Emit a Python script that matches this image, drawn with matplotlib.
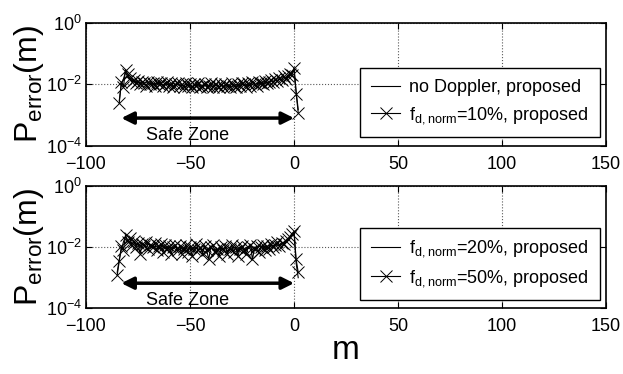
import numpy as np
import matplotlib
matplotlib.use("Agg")
import matplotlib.pyplot as plt

plt.rcParams['font.family'] = ['Liberation Sans', 'DejaVu Sans']
plt.rcParams['mathtext.default'] = 'regular'

# top panel data (m from -84 to 2)
x_top = np.arange(-84, 3)
top_nodop = [0.003, 0.010, 0.015, 0.025, 0.018, 0.015, 0.013, 0.012, 0.013, 0.011,
             0.012, 0.010, 0.011, 0.012, 0.010, 0.011, 0.009, 0.011, 0.010, 0.012,
             0.010, 0.009, 0.011, 0.010, 0.009, 0.010, 0.011, 0.009, 0.010, 0.009,
             0.010, 0.009, 0.008, 0.010, 0.009, 0.008, 0.009, 0.010, 0.008, 0.009,
             0.008, 0.009, 0.010, 0.008, 0.009, 0.008, 0.009, 0.010, 0.008, 0.009,
             0.009, 0.008, 0.010, 0.009, 0.008, 0.009, 0.010, 0.009, 0.008, 0.010,
             0.009, 0.010, 0.009, 0.011, 0.010, 0.009, 0.011, 0.010, 0.012, 0.011,
             0.010, 0.012, 0.011, 0.013, 0.012, 0.014, 0.013, 0.015, 0.014, 0.017,
             0.016, 0.018, 0.020, 0.025, 0.030, 0.006, 0.0015]
top_fd10 = [0.0025, 0.012, 0.008, 0.030, 0.022, 0.016, 0.012, 0.014, 0.011, 0.013,
            0.010, 0.012, 0.011, 0.009, 0.012, 0.010, 0.011, 0.009, 0.012, 0.010,
            0.011, 0.009, 0.010, 0.012, 0.009, 0.011, 0.008, 0.010, 0.011, 0.009,
            0.010, 0.008, 0.011, 0.009, 0.010, 0.008, 0.010, 0.009, 0.011, 0.008,
            0.009, 0.010, 0.008, 0.009, 0.011, 0.008, 0.010, 0.009, 0.008, 0.010,
            0.008, 0.010, 0.009, 0.008, 0.011, 0.009, 0.008, 0.010, 0.009, 0.011,
            0.010, 0.008, 0.011, 0.009, 0.012, 0.010, 0.009, 0.012, 0.011, 0.010,
            0.013, 0.011, 0.012, 0.014, 0.012, 0.015, 0.013, 0.016, 0.014, 0.018,
            0.015, 0.019, 0.022, 0.020, 0.035, 0.005, 0.0012]

# bottom panel data (m from -85 to 2)
x_bot = np.arange(-85, 3)
bot_fd20 = [0.0015, 0.004, 0.008, 0.015, 0.022, 0.018, 0.015, 0.013, 0.014, 0.012,
            0.013, 0.011, 0.014, 0.012, 0.010, 0.013, 0.011, 0.012, 0.010, 0.011,
            0.009, 0.012, 0.010, 0.009, 0.011, 0.008, 0.010, 0.009, 0.011, 0.008,
            0.010, 0.009, 0.007, 0.010, 0.008, 0.011, 0.009, 0.007, 0.010, 0.008,
            0.009, 0.007, 0.010, 0.008, 0.009, 0.011, 0.008, 0.009, 0.007, 0.010,
            0.008, 0.009, 0.010, 0.007, 0.009, 0.008, 0.010, 0.009, 0.007, 0.010,
            0.009, 0.008, 0.010, 0.009, 0.011, 0.008, 0.010, 0.009, 0.011, 0.010,
            0.009, 0.011, 0.010, 0.012, 0.010, 0.011, 0.013, 0.011, 0.012, 0.014,
            0.012, 0.015, 0.017, 0.020, 0.025, 0.030, 0.003, 0.0010]
bot_fd50 = [0.0012, 0.0035, 0.011, 0.008, 0.025, 0.015, 0.020, 0.012, 0.016, 0.010,
            0.014, 0.006, 0.013, 0.011, 0.015, 0.009, 0.012, 0.010, 0.014, 0.008,
            0.011, 0.013, 0.007, 0.012, 0.009, 0.011, 0.006, 0.010, 0.012, 0.008,
            0.011, 0.006, 0.009, 0.012, 0.007, 0.010, 0.005, 0.009, 0.013, 0.008,
            0.010, 0.006, 0.011, 0.008, 0.004, 0.010, 0.012, 0.007, 0.009, 0.005,
            0.010, 0.008, 0.011, 0.006, 0.009, 0.012, 0.007, 0.010, 0.005, 0.009,
            0.011, 0.008, 0.006, 0.010, 0.012, 0.004, 0.009, 0.011, 0.007, 0.010,
            0.012, 0.008, 0.011, 0.009, 0.013, 0.010, 0.012, 0.015, 0.011, 0.014,
            0.013, 0.016, 0.018, 0.022, 0.028, 0.033, 0.004, 0.0015]

xticks = [-100, -50, 0, 50, 100, 150]
yticks = [1e-4, 1e-2, 1e0]
ytick_labels = ['$10^{-4}$', '$10^{-2}$', '$10^{0}$']

fig = plt.figure(figsize=(6.23, 3.74), dpi=100)
ax1 = fig.add_axes([0.138, 0.610, 0.835, 0.329])
ax2 = fig.add_axes([0.138, 0.176, 0.835, 0.326])


def style_axes(ax, arrow_y, text_y):
    ax.set_yscale('log')
    ax.set_xlim(-100, 150)
    ax.set_ylim(1e-4, 1e0)
    ax.set_xticks(xticks)
    ax.set_xticklabels([str(t).replace('-', '\u2212') for t in xticks])
    ax.set_yticks(yticks)
    ax.set_yticklabels(ytick_labels)
    ax.yaxis.set_minor_locator(matplotlib.ticker.NullLocator())
    ax.tick_params(direction='in', top=True, right=True, labelsize=13, length=4, pad=7)
    ax.tick_params(axis='y', pad=3)
    ax.grid(True, linestyle=':', color='0.35', linewidth=0.8)
    for s in ax.spines.values():
        s.set_linewidth(1.2)
    ax.set_ylabel('P$_{error}$(m)', fontsize=23, labelpad=0)
    ax.annotate('', xy=(0, arrow_y), xytext=(-83, arrow_y),
                arrowprops=dict(arrowstyle='<|-|>', color='black', lw=2.5,
                                mutation_scale=18, shrinkA=0, shrinkB=0))
    ax.text(-51, text_y, 'Safe Zone', fontsize=13, ha='center', va='center')


ax1.plot(x_top, top_nodop, '-', color='black', lw=0.8, label='no Doppler, proposed')
ax1.plot(x_top, top_fd10, '-x', color='black', lw=0.8, ms=8, mew=0.7,
         label='$f_{d,norm}$=10%, proposed')
style_axes(ax1, 8e-4, 2.1e-4)

ax2.plot(x_bot, bot_fd20, '-', color='black', lw=0.8, label='$f_{d,norm}$=20%, proposed')
ax2.plot(x_bot, bot_fd50, '-x', color='black', lw=0.8, ms=8, mew=0.7,
         label='$f_{d,norm}$=50%, proposed')
style_axes(ax2, 6.6e-4, 1.8e-4)
ax2.set_xlabel('m', fontsize=24, labelpad=0)

for ax, y0 in [(ax1, 0.073), (ax2, 0.066)]:
    leg = ax.legend(loc='lower right', bbox_to_anchor=(0.988, y0), borderaxespad=0,
                    fontsize=13, fancybox=False, framealpha=1, edgecolor='black',
                    handlelength=1.6, handletextpad=0.5, labelspacing=0.5,
                    borderpad=0.6)
    leg.get_frame().set_linewidth(1.0)

fig.savefig('out.png', dpi=100)
